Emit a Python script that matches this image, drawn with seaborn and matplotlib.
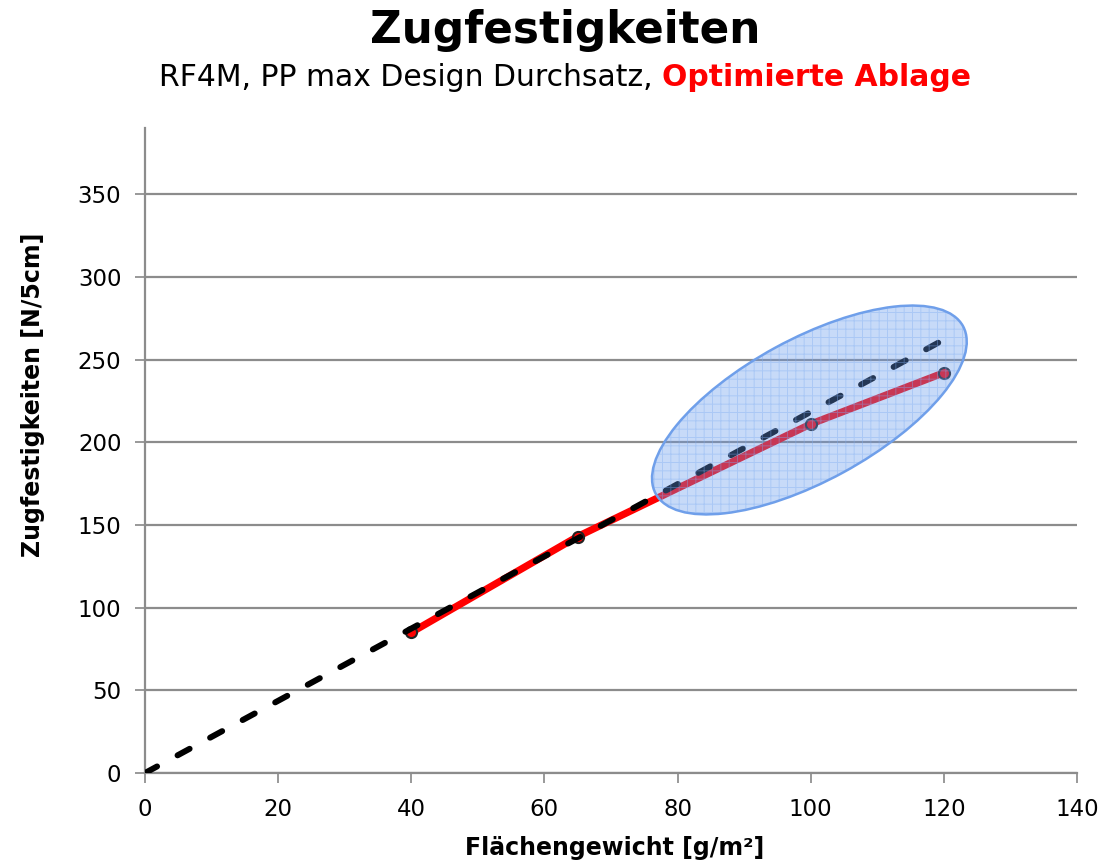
import matplotlib
matplotlib.use("Agg")
import matplotlib.pyplot as plt
import matplotlib.transforms as mtransforms
from matplotlib.patches import Ellipse
import seaborn as sns
import pandas as pd

# Measured tensile strengths (optimised laying)
flaechengewicht = [40, 65, 100, 120]
zugfestigkeit = [85, 143, 211, 242]

# Trend line through the origin
trend_x = [0, 120]
trend_y = [0, 262]

x_ticks = [0, 20, 40, 60, 80, 100, 120, 140]
y_ticks = [0, 50, 100, 150, 200, 250, 300, 350]

title = "Zugfestigkeiten"
subtitle_black = "RF4M, PP max Design Durchsatz, "
subtitle_red = "Optimierte Ablage"
x_label = "Flächengewicht [g/m²]"
y_label = "Zugfestigkeiten [N/5cm]"

sns.set_theme(style="white")
plt.rcParams["font.family"] = ["DejaVu Sans"]
plt.rcParams["hatch.linewidth"] = 0.7

W, H = 1104, 863
fig = plt.figure(figsize=(W / 100, H / 100), dpi=100)
ax = fig.add_axes([145 / W, 1 - 773 / H, (1077 - 145) / W, (773 - 128) / H])

df = pd.DataFrame({"x": flaechengewicht, "y": zugfestigkeit})
dt = pd.DataFrame({"x": trend_x, "y": trend_y})

sns.lineplot(data=df, x="x", y="y", ax=ax, color="#ff0000", lw=5.2,
             marker="o", markersize=8, markerfacecolor="#ff0000",
             markeredgecolor="#222222", markeredgewidth=1.5,
             solid_capstyle="round", zorder=3)
sns.lineplot(data=dt, x="x", y="y", ax=ax, color="black", lw=4.3,
             dashes=(2.3, 3.9), dash_capstyle="round", zorder=4)

ax.set_xlim(0, 140)
ax.set_ylim(0, 390)
ax.set_xticks(x_ticks)
ax.set_yticks(y_ticks)
ax.tick_params(axis="both", labelsize=16.5, length=7, width=1.2, color="#888888",
               labelcolor="black", direction="out", bottom=True, left=True)
ax.tick_params(axis="y", pad=10)
ax.tick_params(axis="x", pad=11)
ax.yaxis.grid(True, color="#8c8c8c", lw=1.6)
ax.xaxis.grid(False)
ax.set_axisbelow(True)
for side in ["top", "right"]:
    ax.spines[side].set_visible(False)
for side in ["left", "bottom"]:
    ax.spines[side].set_color("#8c8c8c")
    ax.spines[side].set_linewidth(1.6)

ax.set_xlabel(x_label, fontsize=17, fontweight="bold", color="black")
ax.set_ylabel(y_label, fontsize=17, fontweight="bold", color="black")
ax.xaxis.set_label_coords((615 - 145) / 932, (773 - 848) / 645)
ax.yaxis.set_label_coords((33 - 145) / 932, (773 - 395) / 645)
ax.xaxis.label.set_va("center")
ax.yaxis.label.set_va("center")

# Highlight ellipse around the high-weight range, sized in inches on screen
ell_trans = fig.dpi_scale_trans + mtransforms.ScaledTranslation(99.8, 219.5, ax.transData)
ell_kw = dict(xy=(0, 0), width=3.5, height=1.42, angle=28.6, transform=ell_trans)
ell_fill = Ellipse(**ell_kw, facecolor=(0.40, 0.60, 0.93, 0.36), edgecolor="none", zorder=5)
ell_hatch = Ellipse(**ell_kw, facecolor="none", edgecolor=(0.50, 0.68, 0.95, 0.40),
                    hatch="++", lw=0, zorder=6)
ell_edge = Ellipse(**ell_kw, facecolor="none", edgecolor="#6f9fea", lw=1.8, zorder=7)
for p in (ell_fill, ell_hatch, ell_edge):
    ax.add_patch(p)

cx = 565 / W
fig.text(cx, 1 - 31 / H, title, ha="center", va="center",
         fontsize=31.5, fontweight="bold", color="black")

# Two-coloured subtitle, centred as a whole
renderer = fig.canvas.get_renderer()
sy = 1 - 77 / H
t1 = fig.text(0, sy, subtitle_black, ha="left", va="center", fontsize=21.5, color="black")
t2 = fig.text(0, sy, subtitle_red, ha="left", va="center", fontsize=21.5,
              fontweight="bold", color="#ff0000")
w1 = t1.get_window_extent(renderer).width / W
w2 = t2.get_window_extent(renderer).width / W
x0 = cx - (w1 + w2) / 2
t1.set_x(x0)
t2.set_x(x0 + w1)

fig.savefig("out.png", dpi=100)
